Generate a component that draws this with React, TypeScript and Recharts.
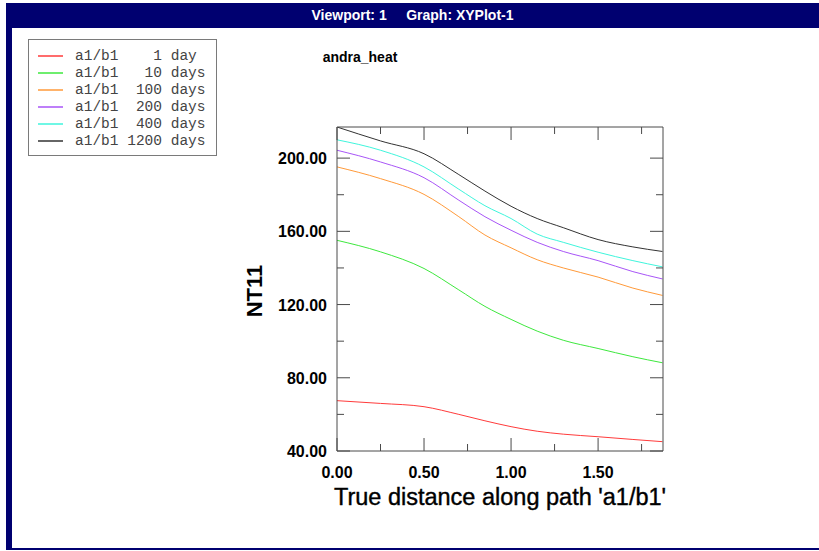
import { LineChart, Line, XAxis, YAxis } from 'recharts';

const distance = [0, 0.25, 0.5, 0.7, 0.85, 1.0, 1.15, 1.3, 1.5, 1.7, 1.87];

const day1 = [67.5, 66, 64.2, 60, 56.5, 53.3, 50.8, 49.2, 47.8, 46.3, 45.1];
const day10 = [155.1, 148.8, 139.7, 128, 119, 111.9, 105.5, 100.5, 96, 91.5, 88.2];
const day100 = [195.2, 188.8, 180.2, 168, 158, 151, 144.5, 140, 135, 129, 125];
const day200 = [204.3, 197.9, 189.3, 177, 168, 160.6, 154, 149, 144, 138, 134];
const day400 = [210, 204.3, 195.2, 183, 174, 167, 158.5, 154, 148.6, 144, 140.6];
const day1200 = [217, 209.4, 202.4, 191, 182, 173.7, 167, 162, 155.5, 151.5, 149];

const xTicks = [0, 0.25, 0.5, 0.75, 1.0, 1.25, 1.5, 1.75];
const yTicks = [40, 60, 80, 100, 120, 140, 160, 180, 200];

const series = [
  { key: 'd1', name: 'a1/b1    1 day', values: day1, color: '#ff3b3b' },
  { key: 'd10', name: 'a1/b1   10 days', values: day10, color: '#3ee83e' },
  { key: 'd100', name: 'a1/b1  100 days', values: day100, color: '#ff9a3a' },
  { key: 'd200', name: 'a1/b1  200 days', values: day200, color: '#a855f7' },
  { key: 'd400', name: 'a1/b1  400 days', values: day400, color: '#3ff5dc' },
  { key: 'd1200', name: 'a1/b1 1200 days', values: day1200, color: '#333333' },
];

const data = distance.map((x, i) => {
  const row: Record<string, number> = { x };
  series.forEach((s) => {
    row[s.key] = s.values[i];
  });
  return row;
});

const NAVY = '#000070';
const AXIS = '#4a4a4a';
const FONT = '"Liberation Sans", Arial, Helvetica, sans-serif';

const isMajorX = (v: number) => Math.abs(v * 2 - Math.round(v * 2)) < 1e-6;
const isMajorY = (v: number) => v % 40 === 0;

function BottomTick(props: any) {
  const { x, y, payload } = props;
  const major = isMajorX(payload.value);
  return (
    <g>
      <line x1={x} x2={x} y1={y} y2={y - (major ? 13 : 7)} stroke={AXIS} />
      {major && (
        <text x={x} y={y + 27} textAnchor="middle" fontFamily={FONT} fontWeight="bold" fontSize={16} fill="#000">
          {payload.value.toFixed(2)}
        </text>
      )}
    </g>
  );
}

function TopTick(props: any) {
  const { x, y, payload } = props;
  const major = isMajorX(payload.value);
  return <line x1={x} x2={x} y1={y} y2={y + (major ? 13 : 7)} stroke={AXIS} />;
}

function LeftTick(props: any) {
  const { x, y, payload } = props;
  const major = isMajorY(payload.value);
  return (
    <g>
      <line x1={x} x2={x + (major ? 13 : 7)} y1={y} y2={y} stroke={AXIS} />
      {major && (
        <text x={x - 10} y={y + 6} textAnchor="end" fontFamily={FONT} fontWeight="bold" fontSize={16} fill="#000">
          {payload.value.toFixed(2)}
        </text>
      )}
    </g>
  );
}

function RightTick(props: any) {
  const { x, y, payload } = props;
  const major = isMajorY(payload.value);
  return <line x1={x} x2={x - (major ? 13 : 7)} y1={y} y2={y} stroke={AXIS} />;
}

function LegendBox() {
  return (
    <div
      style={{
        position: 'absolute',
        left: 28,
        top: 39,
        border: '1px solid #7a7a7a',
        width: 189,
        height: 117,
        boxSizing: 'border-box',
        padding: '7px 0 0 9px',
        background: '#fff',
      }}
    >
      {series.map((s) => (
        <div key={s.key} style={{ display: 'flex', alignItems: 'center', height: 17 }}>
          <svg width={25} height={4} style={{ marginRight: 12, display: 'block' }}>
            <line x1={0} x2={25} y1={2} y2={2} stroke={s.color} strokeWidth={1.5} />
          </svg>
          <span
            style={{
              fontFamily: '"Liberation Mono", "DejaVu Sans Mono", monospace',
              fontSize: 14.5,
              color: '#444',
              whiteSpace: 'pre',
              lineHeight: '16px',
            }}
          >
            {s.name}
          </span>
        </div>
      ))}
    </div>
  );
}

export default function App() {
  return (
    <div style={{ position: 'absolute', left: 0, top: 0, width: 819, height: 551, background: '#fff', overflow: 'hidden' }}>
      <div
        style={{
          position: 'absolute',
          left: 6,
          top: 3,
          right: 0,
          height: 25,
          background: NAVY,
          color: '#fff',
          fontFamily: FONT,
          fontWeight: 'bold',
          fontSize: 14,
          lineHeight: '25px',
          textAlign: 'center',
          whiteSpace: 'pre',
        }}
      >
        {'Viewport: 1     Graph: XYPlot-1'}
      </div>
      <div style={{ position: 'absolute', left: 6, top: 3, width: 6, height: 547, background: NAVY }} />
      <div style={{ position: 'absolute', left: 6, top: 548, right: 0, height: 2, background: NAVY }} />

      <LegendBox />

      <div
        style={{
          position: 'absolute',
          left: 360,
          top: 57,
          transform: 'translate(-50%, -50%)',
          fontFamily: FONT,
          fontWeight: 'bold',
          fontSize: 14,
          whiteSpace: 'nowrap',
        }}
      >
        andra_heat
      </div>

      <div
        style={{
          position: 'absolute',
          left: 255,
          top: 291,
          transform: 'translate(-50%, -50%) rotate(-90deg)',
          fontFamily: FONT,
          fontWeight: 'bold',
          fontSize: 22,
          whiteSpace: 'nowrap',
        }}
      >
        NT11
      </div>

      <div
        style={{
          position: 'absolute',
          left: 500,
          top: 497,
          transform: 'translate(-50%, -50%)',
          fontFamily: FONT,
          fontSize: 23.5,
          WebkitTextStroke: '0.4px #000',
          whiteSpace: 'nowrap',
        }}
      >
        True distance along path 'a1/b1'
      </div>

      <div style={{ position: 'absolute', left: 0, top: 0 }}>
        <LineChart width={819} height={551} data={data} margin={{ top: 126, right: 155, bottom: 70, left: 277 }}>
          <XAxis
            dataKey="x"
            type="number"
            domain={[0, 1.873]}
            ticks={xTicks}
            interval={0}
            allowDataOverflow
            height={30}
            tickSize={0}
            tickMargin={0}
            tickLine={false}
            axisLine={{ stroke: AXIS }}
            tick={<BottomTick />}
          />
          <XAxis
            xAxisId="top"
            dataKey="x"
            orientation="top"
            type="number"
            domain={[0, 1.873]}
            ticks={xTicks}
            interval={0}
            allowDataOverflow
            height={1}
            tickSize={0}
            tickMargin={0}
            tickLine={false}
            axisLine={{ stroke: AXIS }}
            tick={<TopTick />}
          />
          <YAxis
            type="number"
            domain={[40, 217]}
            ticks={yTicks}
            interval={0}
            allowDataOverflow
            width={60}
            tickSize={0}
            tickMargin={0}
            tickLine={false}
            axisLine={{ stroke: AXIS }}
            tick={<LeftTick />}
          />
          <YAxis
            yAxisId="right"
            orientation="right"
            type="number"
            domain={[40, 217]}
            ticks={yTicks}
            interval={0}
            allowDataOverflow
            width={1}
            tickSize={0}
            tickMargin={0}
            tickLine={false}
            axisLine={{ stroke: AXIS }}
            tick={<RightTick />}
          />
          {series.map((s) => (
            <Line
              key={s.key}
              type="monotone"
              dataKey={s.key}
              name={s.name}
              stroke={s.color}
              strokeWidth={1}
              dot={false}
              activeDot={false}
              isAnimationActive={false}
            />
          ))}
          <Line
            xAxisId="top"
            yAxisId="right"
            dataKey="d1200"
            stroke="none"
            dot={false}
            activeDot={false}
            legendType="none"
            isAnimationActive={false}
          />
        </LineChart>
      </div>
    </div>
  );
}
